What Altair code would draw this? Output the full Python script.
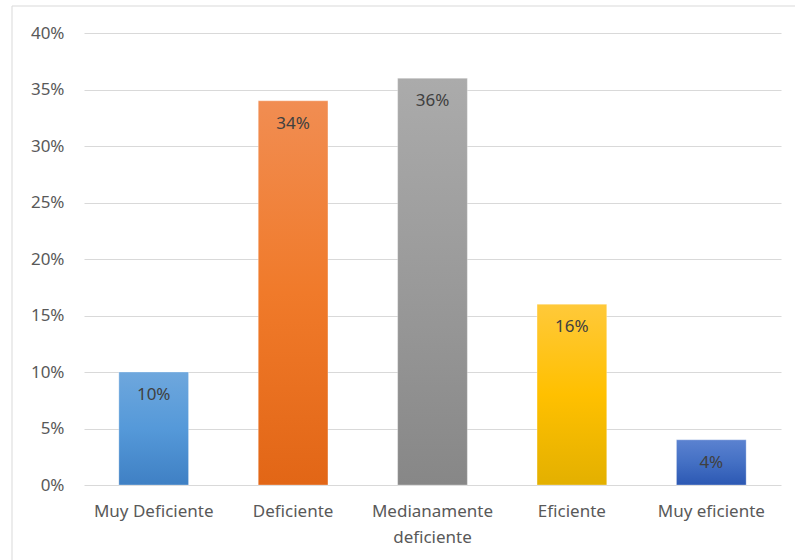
import altair as alt
import pandas as pd

categories = ["Muy Deficiente", "Deficiente", "Medianamente deficiente", "Eficiente", "Muy eficiente"]
values = [0.10, 0.34, 0.36, 0.16, 0.04]
labels = ["10%", "34%", "36%", "16%", "4%"]
grad_top = ["#6ea7dd", "#f18d52", "#ababab", "#ffc93a", "#5b82d0"]
grad_mid = ["#5599d9", "#f07a2a", "#9a9a9a", "#ffc000", "#4470c4"]
grad_bot = ["#3f80c4", "#e26616", "#878787", "#e3b000", "#2c58b3"]

df = pd.DataFrame({"cat": categories, "val": values, "lab": labels})

FONT = "Noto Sans"
TXT = "#595959"
FS = 17

x_enc = alt.X("cat:N", sort=categories,
              scale=alt.Scale(paddingInner=0.5, paddingOuter=0.25),
              axis=alt.Axis(title=None, labelAngle=0, domain=False, ticks=False,
                            labelPadding=18, labelFontSize=FS, labelColor=TXT,
                            labelFont=FONT, labelLineHeight=26,
                            labelExpr="datum.label == 'Medianamente deficiente' ? ['Medianamente', 'deficiente'] : datum.label"))
y_enc = alt.Y("val:Q", scale=alt.Scale(domain=[0, 0.4], nice=False),
              axis=alt.Axis(title=None, format=".0%", values=[0, .05, .1, .15, .2, .25, .3, .35, .4],
                            domain=False, ticks=False, labelPadding=20, labelFontSize=FS,
                            labelColor=TXT, labelFont=FONT, gridColor="#d9d9d9", gridWidth=1))

border = alt.Chart(pd.DataFrame({"a": [0]})).mark_rect(
    fill=None, stroke="#d9d9d9", strokeWidth=1
).encode(x=alt.value(-72), x2=alt.value(730), y=alt.value(-27), y2=alt.value(600))

layers = [border]
for i, c in enumerate(categories):
    grad = {"gradient": "linear", "x1": 0, "y1": 0, "x2": 0, "y2": 1,
            "stops": [{"offset": 0, "color": grad_top[i]},
                      {"offset": 0.5, "color": grad_mid[i]},
                      {"offset": 1, "color": grad_bot[i]}]}
    layers.append(
        alt.Chart(df).transform_filter(alt.datum.cat == c)
        .mark_bar(color=grad, stroke="#ffffff", strokeWidth=0.5, strokeOpacity=0.6)
        .encode(x=x_enc, y=y_enc)
    )

text = alt.Chart(df).mark_text(baseline="middle", dy=23, fontSize=FS, font=FONT, color="#404040").encode(
    x=alt.X("cat:N", sort=categories), y="val:Q", text="lab:N")
layers.append(text)

chart = alt.layer(*layers).properties(
    width=697, height=452,
    autosize=alt.AutoSizeParams(type="none"),
    padding={"left": 84, "top": 33, "right": 14, "bottom": 75},
    background="white"
).configure_view(stroke=None)

chart.save("out.html", embed_options={"renderer": "svg", "actions": False})
